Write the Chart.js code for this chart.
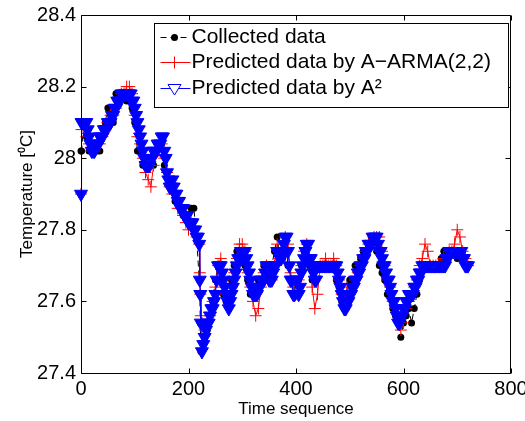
<!DOCTYPE html>
<html>
<head>
<meta charset="utf-8">
<script src="https://cdn.jsdelivr.net/npm/chart.js@4.4.1/dist/chart.umd.min.js"></script>
<style>
  html, body { margin: 0; padding: 0; background: #fff; }
  #wrap { width: 525px; height: 421px; }
</style>
</head>
<body>
<div id="wrap"><canvas id="tempChart" width="525" height="421"></canvas></div>
<script>
// time sequence (sampled) for the collected data and the A-ARMA prediction
const timeIdx = [
  0, 1, 5, 10, 15, 20, 25, 30, 35, 40, 45,
  50, 55, 60, 65, 70, 75, 80, 85, 90, 95,
  100, 105, 110, 115, 120, 125, 130, 135, 140, 145,
  150, 155, 160, 165, 170, 175, 180, 185, 190, 195,
  200, 205, 210, 215, 220, 221, 222, 223, 225, 230, 235, 240, 245,
  250, 255, 260, 265, 270, 275, 280, 285, 290, 295,
  300, 305, 310, 315, 320, 325, 330, 335, 340, 345,
  350, 355, 360, 365, 370, 375, 380, 385, 390, 395,
  400, 405, 410, 415, 420, 425, 430, 435, 440, 445,
  450, 455, 460, 465, 470, 475, 480, 485, 490, 495,
  500, 505, 510, 515, 520, 525, 530, 535, 540, 545,
  550, 555, 560, 565, 570, 575, 580, 585, 590, 595,
  600, 605, 610, 615, 620, 625, 630, 635, 640, 645,
  650, 655, 660, 665, 670, 675, 680, 685, 690, 695,
  700, 705, 710, 715, 720
];

const collectedTemp = [
  28.02, 28.02, 28.10, 28.06, 28.02, 28.02, 28.04, 28.02, 28.02, 28.06, 28.10,
  28.14, 28.12, 28.10, 28.18, 28.16, 28.18, 28.18, 28.16, 28.18, 28.14,
  28.10, 28.02, 28.02, 27.98, 27.98, 27.98, 27.98, 27.98, 28.02, 28.04,
  28.04, 27.98, 27.96, 27.92, 27.92, 27.88, 27.88, 27.86, 27.84, 27.84,
  27.82, 27.86, 27.86, 27.78, 27.66, 27.62, 27.54, 27.46, 27.46, 27.50, 27.52, 27.56, 27.60,
  27.66, 27.70, 27.66, 27.62, 27.60, 27.60, 27.66, 27.70, 27.74, 27.74,
  27.72, 27.70, 27.66, 27.62, 27.62, 27.64, 27.66, 27.66, 27.70, 27.66,
  27.66, 27.70, 27.74, 27.78, 27.72, 27.72, 27.78, 27.70, 27.66, 27.62,
  27.66, 27.66, 27.70, 27.74, 27.72, 27.70, 27.66, 27.66, 27.70, 27.70,
  27.70, 27.70, 27.70, 27.70, 27.70, 27.66, 27.64, 27.60, 27.58, 27.62,
  27.66, 27.66, 27.70, 27.70, 27.72, 27.74, 27.74, 27.76, 27.78, 27.78,
  27.74, 27.70, 27.68, 27.66, 27.62, 27.62, 27.58, 27.56, 27.54, 27.50,
  27.54, 27.56, 27.58, 27.54, 27.58, 27.62, 27.66, 27.70, 27.70, 27.70,
  27.70, 27.70, 27.70, 27.70, 27.72, 27.74, 27.74, 27.74, 27.74, 27.74,
  27.72, 27.74, 27.74, 27.70, 27.70
];

const armaTemp = [
  27.90, 28.08, 28.08, 28.06, 28.04, 28.02, 28.02, 28.04, 28.04, 28.06, 28.08,
  28.10, 28.12, 28.12, 28.14, 28.16, 28.18, 28.18, 28.20, 28.20, 28.18,
  28.12, 28.06, 28.04, 28.00, 27.96, 27.94, 27.92, 27.98, 28.02, 28.02,
  28.04, 28.00, 27.96, 27.92, 27.90, 27.90, 27.86, 27.86, 27.84, 27.82,
  27.80, 27.82, 27.80, 27.78, 27.76, 27.68, 27.62, 27.56, 27.54, 27.52, 27.54, 27.56, 27.60,
  27.64, 27.70, 27.72, 27.66, 27.62, 27.60, 27.64, 27.68, 27.72, 27.76,
  27.76, 27.74, 27.68, 27.64, 27.60, 27.56, 27.58, 27.64, 27.68, 27.70,
  27.68, 27.66, 27.70, 27.76, 27.72, 27.74, 27.78, 27.76, 27.68, 27.64,
  27.62, 27.66, 27.70, 27.74, 27.76, 27.72, 27.64, 27.58, 27.62, 27.70,
  27.70, 27.72, 27.70, 27.70, 27.72, 27.70, 27.66, 27.62, 27.60, 27.64,
  27.62, 27.64, 27.66, 27.68, 27.70, 27.72, 27.74, 27.76, 27.76, 27.78,
  27.78, 27.78, 27.74, 27.70, 27.66, 27.64, 27.60, 27.58, 27.56, 27.52,
  27.54, 27.58, 27.60, 27.62, 27.64, 27.66, 27.70, 27.72, 27.76, 27.74,
  27.70, 27.70, 27.70, 27.70, 27.70, 27.72, 27.72, 27.74, 27.74, 27.76,
  27.80, 27.78, 27.74, 27.72, 27.70
];

// the A^2 prediction is read on a finer time grid (it forms the thick blue band)
const a2Time = [
  0, 1, 2.5, 5, 7.5, 10, 12.5, 15, 17.5, 20, 22.5,
  25, 27.5, 30, 32.5, 35, 37.5, 40, 42.5, 45, 47.5,
  50, 52.5, 55, 57.5, 60, 62.5, 65, 67.5, 70, 72.5,
  75, 77.5, 80, 82.5, 85, 87.5, 90, 92.5, 95, 97.5,
  100, 102.5, 105, 107.5, 110, 112.5, 115, 117.5, 120, 122.5,
  125, 127.5, 130, 132.5, 135, 137.5, 140, 142.5, 145, 147.5,
  150, 152.5, 155, 157.5, 160, 162.5, 165, 167.5, 170, 172.5,
  175, 177.5, 180, 182.5, 185, 187.5, 190, 192.5, 195, 197.5,
  200, 202.5, 205, 207.5, 210, 212.5, 215, 217.5,
  220, 221, 222, 223, 225, 227.5, 230, 232.5, 235, 237.5, 240, 242.5, 245, 247.5,
  250, 252.5, 255, 257.5, 260, 262.5, 265, 267.5, 270, 272.5,
  275, 277.5, 280, 282.5, 285, 287.5, 290, 292.5, 295, 297.5,
  300, 302.5, 305, 307.5, 310, 312.5, 315, 317.5, 320, 322.5,
  325, 327.5, 330, 332.5, 335, 337.5, 340, 342.5, 345, 347.5,
  350, 352.5, 355, 357.5, 360, 362.5, 365, 367.5, 370, 372.5,
  375, 377.5, 380, 382.5, 385, 387.5, 390, 392.5, 395, 397.5,
  400, 402.5, 405, 407.5, 410, 412.5, 415, 417.5, 420, 422.5,
  425, 427.5, 430, 432.5, 435, 437.5, 440, 442.5, 445, 447.5,
  450, 452.5, 455, 457.5, 460, 462.5, 465, 467.5, 470, 472.5,
  475, 477.5, 480, 482.5, 485, 487.5, 490, 492.5, 495, 497.5,
  500, 502.5, 505, 507.5, 510, 512.5, 515, 517.5, 520, 522.5,
  525, 527.5, 530, 532.5, 535, 537.5, 540, 542.5, 545, 547.5,
  550, 552.5, 555, 557.5, 560, 562.5, 565, 567.5, 570, 572.5,
  575, 577.5, 580, 582.5, 585, 587.5, 590, 592.5, 595, 597.5,
  600, 602.5, 605, 607.5, 610, 612.5, 615, 617.5, 620, 622.5,
  625, 627.5, 630, 632.5, 635, 637.5, 640, 642.5, 645, 647.5,
  650, 652.5, 655, 657.5, 660, 662.5, 665, 667.5, 670, 672.5,
  675, 677.5, 680, 682.5, 685, 687.5, 690, 692.5, 695, 697.5,
  700, 702.5, 705, 707.5, 710, 712.5, 715, 717.5, 720
];

const a2Temp = [
  27.90, 28.10, 28.10, 28.10, 28.10, 28.10, 28.08, 28.06, 28.04, 28.02, 28.02,
  28.02, 28.04, 28.04, 28.04, 28.06, 28.06, 28.06, 28.08, 28.08, 28.08,
  28.10, 28.10, 28.10, 28.12, 28.12, 28.14, 28.14, 28.16, 28.16, 28.16,
  28.18, 28.18, 28.18, 28.18, 28.18, 28.18, 28.18, 28.18, 28.16, 28.16,
  28.14, 28.12, 28.10, 28.08, 28.06, 28.04, 28.02, 28.00, 27.98, 27.98,
  27.98, 27.98, 28.00, 28.00, 28.02, 28.02, 28.02, 28.04, 28.04, 28.04,
  28.06, 28.06, 28.02, 28.00, 27.96, 27.94, 27.92, 27.92, 27.94, 27.92,
  27.90, 27.90, 27.88, 27.88, 27.86, 27.86, 27.86, 27.84, 27.84, 27.84,
  27.82, 27.82, 27.82, 27.82, 27.80, 27.80, 27.78, 27.78,
  27.76, 27.66, 27.62, 27.54, 27.46, 27.48, 27.50, 27.52, 27.54, 27.54, 27.56, 27.58, 27.58, 27.60,
  27.62, 27.66, 27.70, 27.70, 27.70, 27.68, 27.66, 27.64, 27.62, 27.60,
  27.58, 27.60, 27.62, 27.64, 27.66, 27.68, 27.70, 27.72, 27.72, 27.74,
  27.74, 27.74, 27.74, 27.72, 27.70, 27.68, 27.66, 27.64, 27.62, 27.62,
  27.62, 27.62, 27.64, 27.64, 27.66, 27.66, 27.66, 27.68, 27.70, 27.70,
  27.66, 27.66, 27.66, 27.68, 27.70, 27.70, 27.74, 27.74, 27.72, 27.72,
  27.74, 27.76, 27.78, 27.78, 27.74, 27.70, 27.66, 27.66, 27.62, 27.62,
  27.66, 27.66, 27.62, 27.64, 27.68, 27.70, 27.72, 27.74, 27.76, 27.76,
  27.72, 27.72, 27.70, 27.68, 27.66, 27.66, 27.70, 27.70, 27.70, 27.70,
  27.70, 27.70, 27.70, 27.70, 27.70, 27.70, 27.70, 27.70, 27.70, 27.70,
  27.70, 27.68, 27.66, 27.64, 27.62, 27.60, 27.58, 27.58, 27.60, 27.60,
  27.62, 27.62, 27.64, 27.64, 27.66, 27.66, 27.68, 27.68, 27.70, 27.70,
  27.72, 27.72, 27.74, 27.74, 27.76, 27.76, 27.76, 27.78, 27.78, 27.78,
  27.78, 27.76, 27.74, 27.74, 27.72, 27.70, 27.70, 27.68, 27.66, 27.66,
  27.64, 27.62, 27.60, 27.60, 27.58, 27.56, 27.54, 27.54, 27.56, 27.56,
  27.58, 27.58, 27.60, 27.60, 27.62, 27.62, 27.62, 27.62, 27.64, 27.64,
  27.66, 27.66, 27.68, 27.68, 27.70, 27.70, 27.70, 27.70, 27.70, 27.70,
  27.70, 27.70, 27.70, 27.70, 27.70, 27.70, 27.70, 27.70, 27.70, 27.70,
  27.70, 27.70, 27.72, 27.72, 27.74, 27.74, 27.74, 27.74, 27.74, 27.74,
  27.74, 27.74, 27.74, 27.74, 27.72, 27.72, 27.70, 27.70, 27.70
];

const xTicks = [0, 200, 400, 600, 800];
const yTicks = [27.4, 27.6, 27.8, 28.0, 28.2, 28.4];
const seriesNames = ['Collected data', 'Predicted data by A\u2212ARMA(2,2)', 'Predicted data by A\u00b2'];

const FONT = '"Liberation Sans", Arial, Helvetica, sans-serif';
Chart.defaults.font.family = FONT;
Chart.defaults.color = '#000';

const toPoints = (ts, ys) => ts.map((t, i) => ({ x: t, y: ys[i] }));

// matlab style box with inward ticks on all four sides
const axesBox = {
  id: 'axesBox',
  afterDatasetsDraw(chart) {
    const { ctx, chartArea: a, scales } = chart;
    const L = Math.round(a.left) + 0.5, R = Math.round(a.right) - 0.5;
    const T = Math.round(a.top) + 0.5, B = Math.round(a.bottom) + 0.5;
    ctx.save();
    ctx.strokeStyle = '#000';
    ctx.lineWidth = 1;
    ctx.beginPath();
    ctx.rect(L, T, R - L, B - T);
    xTicks.forEach(v => {
      const px = Math.round(scales.x.getPixelForValue(v)) + 0.5;
      ctx.moveTo(px, B); ctx.lineTo(px, B - 5);
      ctx.moveTo(px, T); ctx.lineTo(px, T + 5);
    });
    yTicks.forEach(v => {
      const py = Math.round(scales.y.getPixelForValue(v)) + 0.5;
      ctx.moveTo(L, py); ctx.lineTo(L + 5, py);
      ctx.moveTo(R, py); ctx.lineTo(R - 5, py);
    });
    ctx.stroke();
    ctx.restore();
  }
};

// legend box in the upper right corner, line + marker samples
const boxLegend = {
  id: 'boxLegend',
  afterDraw(chart) {
    const { ctx, chartArea: a } = chart;
    const x0 = Math.round(a.left) + 73.5, y0 = Math.round(a.top) + 8.5;
    const x1 = Math.round(a.right) - 2.5, y1 = y0 + 84;
    ctx.save();
    ctx.fillStyle = '#fff';
    ctx.fillRect(x0, y0, x1 - x0, y1 - y0);
    ctx.strokeStyle = '#000';
    ctx.lineWidth = 1;
    ctx.strokeRect(x0, y0, x1 - x0, y1 - y0);

    const rows = [y0 + 14, y0 + 39, y0 + 65];
    const colors = ['#000', '#f00', '#00f'];
    const mx = x0 + 20;
    rows.forEach((y, i) => {
      ctx.strokeStyle = colors[i];
      ctx.lineWidth = 1;
      ctx.setLineDash(i === 0 ? [6, 4] : []);
      ctx.beginPath();
      ctx.moveTo(x0 + 6, y); ctx.lineTo(x0 + 36, y);
      ctx.stroke();
      ctx.setLineDash([]);
      ctx.beginPath();
      if (i === 0) {
        ctx.fillStyle = '#000';
        ctx.arc(mx, y, 3.5, 0, Math.PI * 2);
        ctx.fill();
      } else if (i === 1) {
        ctx.moveTo(mx - 6, y); ctx.lineTo(mx + 6, y);
        ctx.moveTo(mx, y - 6); ctx.lineTo(mx, y + 6);
        ctx.stroke();
      } else {
        ctx.fillStyle = '#fff';
        ctx.moveTo(mx - 6.5, y - 4); ctx.lineTo(mx + 6.5, y - 4); ctx.lineTo(mx, y + 6.5);
        ctx.closePath();
        ctx.fill();
        ctx.stroke();
      }
      ctx.fillStyle = '#000';
      ctx.font = '21px ' + FONT;
      ctx.textBaseline = 'middle';
      ctx.fillText(seriesNames[i], x0 + 37, y);
    });
    ctx.restore();
  }
};

new Chart(document.getElementById('tempChart'), {
  type: 'line',
  data: {
    datasets: [
      {
        label: seriesNames[0],
        data: toPoints(timeIdx, collectedTemp),
        borderColor: '#000',
        borderWidth: 1,
        borderDash: [6, 4],
        pointStyle: 'circle',
        pointRadius: 3.5,
        pointBackgroundColor: '#000',
        pointBorderColor: '#000',
        pointBorderWidth: 0,
        order: 2,
        clip: false
      },
      {
        label: seriesNames[1],
        data: toPoints(timeIdx, armaTemp),
        borderColor: '#f00',
        borderWidth: 1,
        pointStyle: 'cross',
        pointRadius: 6,
        pointBorderColor: '#f00',
        pointBorderWidth: 1,
        order: 1,
        clip: false
      },
      {
        label: seriesNames[2],
        data: toPoints(a2Time, a2Temp),
        borderColor: '#00f',
        borderWidth: 1,
        pointStyle: 'triangle',
        pointRotation: 180,
        pointRadius: 7.5,
        pointBackgroundColor: '#00f',
        pointBorderColor: '#00f',
        pointBorderWidth: 1,
        order: 0,
        clip: false
      }
    ]
  },
  options: {
    responsive: false,
    animation: false,
    events: [],
    layout: { padding: { top: 15, right: 14, left: 0, bottom: 0 } },
    plugins: { legend: { display: false }, tooltip: { enabled: false } },
    scales: {
      x: {
        type: 'linear',
        min: 0,
        max: 800,
        afterBuildTicks: s => { s.ticks = xTicks.map(v => ({ value: v })); },
        afterFit: s => { s.height = 48; s.paddingLeft = 0; s.paddingRight = 0; },
        grid: { display: false, drawTicks: false },
        border: { display: false },
        ticks: { font: { size: 20 }, color: '#000', padding: 4, maxRotation: 0, autoSkip: false },
        title: { display: true, text: 'Time sequence', font: { size: 17 }, color: '#000', padding: { top: 0, bottom: 1 } }
      },
      y: {
        type: 'linear',
        min: 27.4,
        max: 28.4,
        afterBuildTicks: s => { s.ticks = yTicks.map(v => ({ value: v })); },
        afterFit: s => { s.width = 81; s.paddingTop = 0; s.paddingBottom = 0; },
        grid: { display: false, drawTicks: false },
        border: { display: false },
        ticks: { font: { size: 20 }, color: '#000', padding: 5, callback: v => String(Math.round(v * 10) / 10) },
        title: { display: true, text: 'Temperature [\u2070C]', font: { size: 17 }, color: '#000', padding: { top: 17, bottom: 0 } }
      }
    }
  },
  plugins: [axesBox, boxLegend]
});
</script>
</body>
</html>
